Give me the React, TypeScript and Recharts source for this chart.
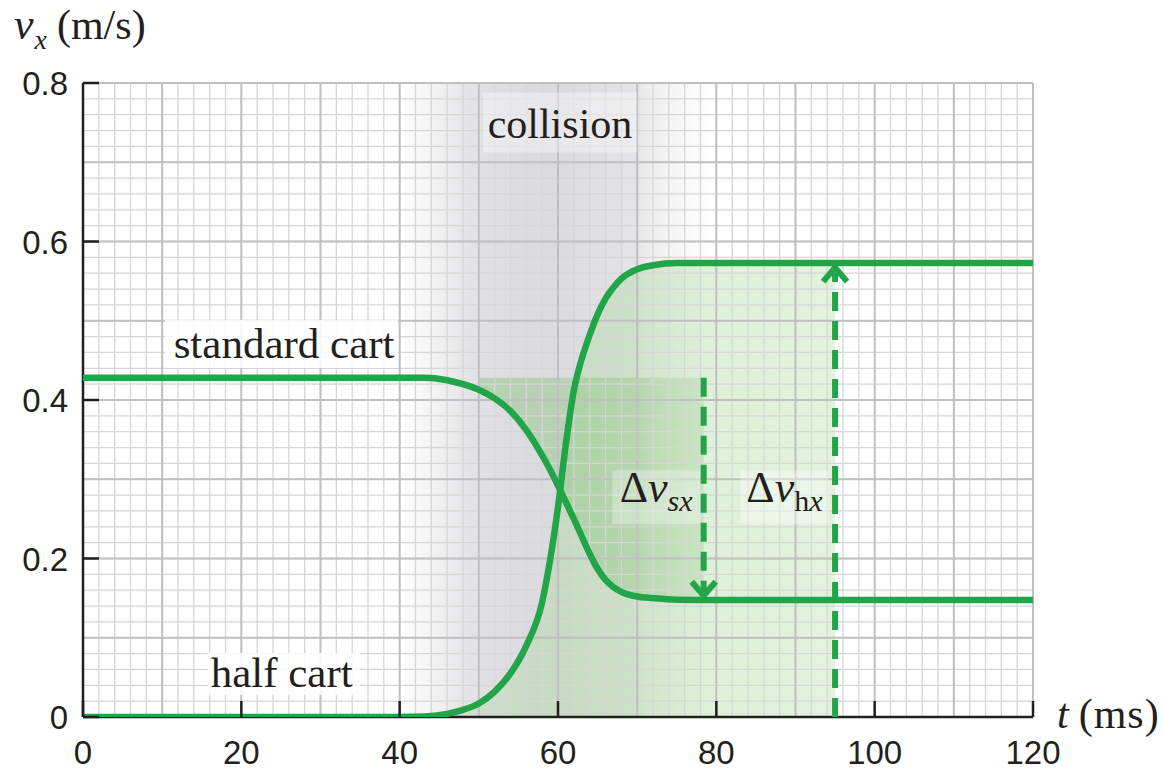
import React from 'react';
import {
  ComposedChart,
  Line,
  Area,
  XAxis,
  YAxis,
  CartesianGrid,
  ReferenceArea,
  ReferenceLine,
  ReferenceDot,
} from 'recharts';

// ---------- data ----------
const timeMs = [0, 40, 43, 46, 48, 50, 52, 54, 56, 58, 59, 60, 61, 62, 63, 64, 65, 66, 67, 68, 70, 72, 75, 80, 120];
const standardCart = [0.428, 0.428, 0.428, 0.425, 0.42, 0.413, 0.402, 0.386, 0.362, 0.33, 0.312, 0.292, 0.271, 0.25, 0.228, 0.206, 0.187, 0.173, 0.164, 0.158, 0.152, 0.15, 0.148, 0.1475, 0.1475];
const halfCart = [0, 0, 0.0005, 0.004, 0.009, 0.017, 0.032, 0.055, 0.09, 0.145, 0.198, 0.265, 0.345, 0.412, 0.452, 0.482, 0.508, 0.528, 0.542, 0.553, 0.565, 0.57, 0.573, 0.573, 0.573];

const xTicks = [0, 20, 40, 60, 80, 100, 120];
const yTicks = [0, 0.2, 0.4, 0.6, 0.8];
const minorT = Array.from({ length: 61 }, (_, i) => i * 2);
const majorT = Array.from({ length: 13 }, (_, i) => i * 10);
const minorV = Array.from({ length: 41 }, (_, i) => +(i * 0.02).toFixed(2));
const majorV = Array.from({ length: 9 }, (_, i) => +(i * 0.1).toFixed(1));

// annotation anchors (data coordinates)
const collisionStart = 40;
const collisionEnd = 80;
const shadeStartMs = 50;
const sxArrowMs = 78.4;
const hxArrowMs = 95;
const sxArrowTip = 0.153;
const hxArrowTip = 0.567;

// ---------- derived tables ----------
const standardData = timeMs.map((t, i) => ({ t, v: standardCart[i] }));
const halfData = timeMs.map((t, i) => ({ t, v: halfCart[i] }));
const initialStd = standardCart[0];
const finalStd = standardCart[standardCart.length - 1];
const finalHalf = halfCart[halfCart.length - 1];

const sxShade = [
  ...timeMs
    .map((t, i) => ({ t, range: [standardCart[i], initialStd] }))
    .filter((d) => d.t >= shadeStartMs && d.t <= 75),
  { t: sxArrowMs, range: [finalStd, initialStd] },
];
const hxShade = [
  ...timeMs.map((t, i) => ({ t, v: halfCart[i] })).filter((d) => d.t >= 43 && d.t <= 80),
  { t: hxArrowMs, v: finalHalf },
];

// ---------- styles ----------
const INK = '#231f20';
const GREEN = '#21a548';
const SERIF = '"Liberation Serif", "Times New Roman", Times, serif';
const SANS = '"Liberation Sans", Arial, Helvetica, sans-serif';

const XTick = (props: any) => {
  const { x, y, payload } = props;
  return (
    <g>
      <line x1={x} x2={x} y1={y} y2={y - 16} stroke={INK} strokeWidth={2.5} />
      <text x={x} y={y + 47} textAnchor="middle" fontSize={33} style={{ fontFamily: SANS }} fill={INK}>
        {payload.value}
      </text>
    </g>
  );
};

const YTick = (props: any) => {
  const { x, y, payload } = props;
  const label = payload.value === 0 ? '0' : Number(payload.value).toFixed(1);
  return (
    <g>
      <line x1={x} x2={x + 16} y1={y} y2={y} stroke={INK} strokeWidth={2.5} />
      <text x={x - 15} y={y + 12} textAnchor="end" fontSize={33} style={{ fontFamily: SANS }} fill={INK}>
        {label}
      </text>
    </g>
  );
};

const renderYTitle = (props: any) => {
  const vb = props.viewBox || { x: 0, y: 83 };
  return (
    <text x={vb.x + 14} y={vb.y - 44} style={{ fontFamily: SERIF }} fill={INK}>
      <tspan fontStyle="italic" fontSize={44}>v</tspan>
      <tspan fontStyle="italic" fontSize={28} dx={1} dy={10}>x</tspan>
      <tspan fontSize={42} dx={10} dy={-10}>(m/s)</tspan>
    </text>
  );
};

const renderXTitle = (props: any) => {
  const vb = props.viewBox || { x: 83, y: 717, width: 950 };
  return (
    <text x={vb.x + vb.width + 24} y={vb.y + 11} style={{ fontFamily: SERIF }} fill={INK}>
      <tspan fontStyle="italic" fontSize={42}>t</tspan>
      <tspan fontSize={42} dx={10} letterSpacing={1}>(ms)</tspan>
    </text>
  );
};

const boxLabel = (
  text: React.ReactNode,
  box: { x0: number; x1: number; y0: number; y1: number },
  opacity: number,
  fontSize: number,
) => (props: any) => {
  const { cx, cy } = props;
  return (
    <g>
      <rect
        x={cx + box.x0}
        y={cy + box.y0}
        width={box.x1 - box.x0}
        height={box.y1 - box.y0}
        fill="#ffffff"
        fillOpacity={opacity}
      />
      <text x={cx} y={cy} textAnchor="middle" fontSize={fontSize} style={{ fontFamily: SERIF }} fill={INK}>
        {text}
      </text>
    </g>
  );
};

const deltaLabel = (sub: React.ReactNode, opacity: number) => (props: any) => {
  const { cx, cy } = props;
  return (
    <g>
      <rect x={cx - 44} y={cy - 32} width={88} height={54} fill="#ffffff" fillOpacity={opacity} />
      <text x={cx} y={cy} textAnchor="middle" style={{ fontFamily: SERIF }} fill={INK}>
        <tspan fontSize={44}>Δ</tspan>
        <tspan fontSize={44} fontStyle="italic">v</tspan>
        <tspan fontSize={30} dy={9}>{sub}</tspan>
      </text>
    </g>
  );
};

const arrowHead = (dir: 'up' | 'down') => (props: any) => {
  const { cx, cy } = props;
  const s = dir === 'down' ? -1 : 1;
  return (
    <polyline
      points={`${cx - 12},${cy + s * 14} ${cx},${cy} ${cx + 12},${cy + s * 14}`}
      fill="none"
      stroke={GREEN}
      strokeWidth={6}
    />
  );
};

export default function App() {
  return (
    <div style={{ position: 'absolute', left: 0, top: 0, width: 1163, height: 771, background: '#fff' }}>
      <ComposedChart width={1163} height={771} margin={{ top: 83, right: 130, bottom: 0, left: 0 }}>
        <defs>
          <linearGradient id="collisionGrad" x1="0" y1="0" x2="1" y2="0">
            <stop offset="0" stopColor="#f0f0f1" stopOpacity={0} />
            <stop offset="0.1" stopColor="#eeeef0" stopOpacity={0.7} />
            <stop offset="0.2" stopColor="#e6e6e8" stopOpacity={1} />
            <stop offset="0.25" stopColor="#e1e1e4" stopOpacity={1} />
            <stop offset="0.42" stopColor="#dbdbdf" stopOpacity={1} />
            <stop offset="0.52" stopColor="#dbdbdf" stopOpacity={1} />
            <stop offset="0.62" stopColor="#e0e0e3" stopOpacity={1} />
            <stop offset="0.75" stopColor="#e4e4e6" stopOpacity={1} />
            <stop offset="0.78" stopColor="#ececed" stopOpacity={1} />
            <stop offset="1" stopColor="#f4f4f5" stopOpacity={0} />
          </linearGradient>
          <linearGradient id="sxGrad" x1="0" y1="0" x2="1" y2="0">
            <stop offset="0" stopColor="#8cc47f" stopOpacity={0.5} />
            <stop offset="0.5" stopColor="#8cc47f" stopOpacity={0.42} />
            <stop offset="1" stopColor="#8cc47f" stopOpacity={0.25} />
          </linearGradient>
          <linearGradient id="hxGrad" x1="0" y1="0" x2="1" y2="0">
            <stop offset="0" stopColor="#a8d898" stopOpacity={0.3} />
            <stop offset="0.4" stopColor="#a8d898" stopOpacity={0.4} />
            <stop offset="1" stopColor="#a8d898" stopOpacity={0.33} />
          </linearGradient>
        </defs>

        <ReferenceArea
          x1={collisionStart}
          x2={collisionEnd}
          y1={0}
          y2={0.8}
          fill="url(#collisionGrad)"
          fillOpacity={1}
          stroke="none"
          zIndex={10}
        />

        <Area
          data={hxShade}
          dataKey="v"
          type="monotone"
          stroke="none"
          fill="url(#hxGrad)"
          fillOpacity={1}
          isAnimationActive={false}
          dot={false}
          activeDot={false}
          zIndex={20}
        />
        <Area
          data={sxShade}
          dataKey="range"
          type="monotone"
          stroke="none"
          fill="url(#sxGrad)"
          fillOpacity={1}
          isAnimationActive={false}
          dot={false}
          activeDot={false}
          zIndex={30}
        />

        <CartesianGrid
          verticalValues={minorT}
          horizontalValues={minorV}
          stroke="#d6d6d6"
          strokeWidth={1.3}
          fill="none"
          zIndex={150}
        />
        <CartesianGrid
          verticalValues={majorT}
          horizontalValues={majorV}
          stroke="#c0c0c2"
          strokeWidth={2}
          fill="none"
          zIndex={160}
        />

        <XAxis
          type="number"
          dataKey="t"
          domain={[0, 120]}
          ticks={xTicks}
          allowDataOverflow
          height={54}
          tickSize={0}
          tickMargin={0}
          tickLine={false}
          tick={<XTick />}
          axisLine={{ stroke: INK, strokeWidth: 2.5 }}
          label={renderXTitle}
          interval={0}
          zIndex={500}
        />
        <YAxis
          type="number"
          domain={[0, 0.8]}
          ticks={yTicks}
          allowDataOverflow
          width={83}
          tickSize={0}
          tickMargin={0}
          tickLine={false}
          tick={<YTick />}
          axisLine={{ stroke: INK, strokeWidth: 2.5 }}
          label={renderYTitle}
          interval={0}
          zIndex={500}
        />

        <Line
          data={standardData}
          dataKey="v"
          type="monotone"
          stroke={GREEN}
          strokeWidth={6.5}
          dot={false}
          activeDot={false}
          isAnimationActive={false}
          zIndex={600}
        />
        <Line
          data={halfData}
          dataKey="v"
          type="monotone"
          stroke={GREEN}
          strokeWidth={6.5}
          dot={false}
          activeDot={false}
          isAnimationActive={false}
          zIndex={600}
        />

        <ReferenceLine
          segment={[
            { x: sxArrowMs, y: initialStd },
            { x: sxArrowMs, y: sxArrowTip + 0.006 },
          ]}
          stroke={GREEN}
          strokeWidth={6}
          strokeDasharray="19 10"
          zIndex={650}
        />
        <ReferenceLine
          segment={[
            { x: hxArrowMs, y: 0 },
            { x: hxArrowMs, y: hxArrowTip - 0.006 },
          ]}
          stroke={GREEN}
          strokeWidth={6}
          strokeDasharray="19 10"
          zIndex={650}
        />
        <ReferenceDot x={sxArrowMs} y={sxArrowTip} r={0} shape={arrowHead('down')} zIndex={660} />
        <ReferenceDot x={hxArrowMs} y={hxArrowTip} r={0} shape={arrowHead('up')} zIndex={660} />

        <ReferenceDot
          x={60.25}
          y={0.73}
          r={0}
          shape={boxLabel('collision', { x0: -77, x1: 77, y0: -46, y1: 14 }, 0.35, 42)}
          zIndex={700}
        />
        <ReferenceDot
          x={25.4}
          y={0.453}
          r={0}
          shape={boxLabel('standard cart', { x0: -119, x1: 114, y0: -38, y1: 10 }, 0.85, 43)}
          zIndex={700}
        />
        <ReferenceDot
          x={25.1}
          y={0.038}
          r={0}
          shape={boxLabel('half cart', { x0: -74, x1: 78, y0: -34, y1: 8 }, 0.85, 43)}
          zIndex={700}
        />
        <ReferenceDot
          x={72.4}
          y={0.271}
          r={0}
          shape={deltaLabel(<tspan fontStyle="italic">sx</tspan>, 0.3)}
          zIndex={700}
        />
        <ReferenceDot
          x={88.6}
          y={0.271}
          r={0}
          shape={deltaLabel(
            <>
              <tspan>h</tspan>
              <tspan fontStyle="italic">x</tspan>
            </>,
            0.35,
          )}
          zIndex={700}
        />
      </ComposedChart>
    </div>
  );
}
